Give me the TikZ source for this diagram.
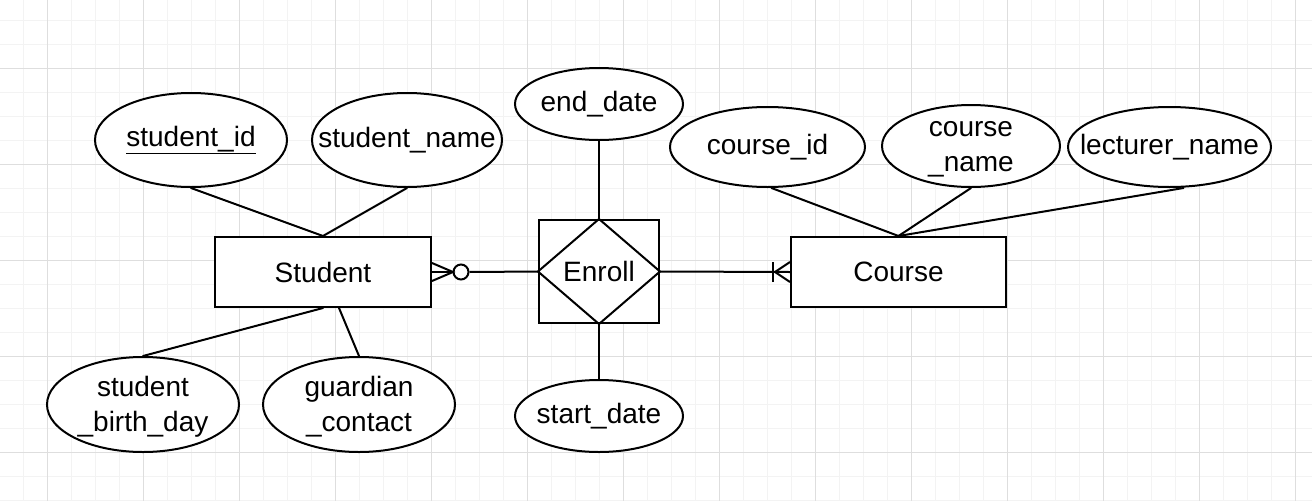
\documentclass[tikz,border=0pt]{standalone}
\usepackage{fontspec}
\setmainfont{Liberation Sans}
\usetikzlibrary{shapes.geometric,calc}
\begin{document}
\begin{tikzpicture}[x=1pt,y=-1pt,
  line width=2pt,
  attr/.style={ellipse,draw,line width=2pt,inner sep=0pt,fill=white},
  atext/.style={align=center,inner sep=0pt,font=\fontsize{28}{35}\selectfont},
  ent/.style={rectangle,draw,line width=2pt,fill=white,inner sep=0pt,
    minimum width=216pt,minimum height=70pt,font=\fontsize{28}{35}\selectfont},
  minorgrid/.style={line width=0.8pt,draw={rgb,255:red,243;green,243;blue,243}},
  majorgrid/.style={line width=0.8pt,draw={rgb,255:red,222;green,222;blue,222}},
  conn/.style={line width=2pt,line cap=round}]
\useasboundingbox (0,0) rectangle (1312,501);
\fill[white] (0,0) rectangle (1312,501);
% grid
\foreach \i in {0,...,54} \draw[minorgrid] ({23.5+24*\i},0) -- ++(0,501);
\foreach \j in {0,...,20} \draw[minorgrid] (0,{20+24*\j}) -- ++(1312,0);
\foreach \i in {0,...,13} \draw[majorgrid] ({47.5+96*\i},0) -- ++(0,501);
\foreach \j in {0,...,4} \draw[majorgrid] (0,{68+96*\j}) -- ++(1312,0);

% attributes
\node[attr,minimum width=192pt,minimum height=94pt,label={[atext]center:\underline{student\_id}}] (sid) at (191,140) {};
\node[attr,minimum width=190pt,minimum height=94pt,label={[atext]center:student\_name}] (sname) at (407,140) {};
\node[attr,minimum width=168pt,minimum height=72pt,label={[atext]center:end\_date}] (end) at (599,104) {};
\node[attr,minimum width=195pt,minimum height=80pt,label={[atext]center:course\_id}] (cid) at (767.5,147) {};
\node[attr,minimum width=178pt,minimum height=82pt,label={[atext,yshift=-3pt]center:course\\\_name}] (cname) at (971,146) {};
\node[attr,minimum width=203pt,minimum height=80pt,label={[atext]center:lecturer\_name}] (lname) at (1169.5,147) {};
\node[attr,minimum width=192pt,minimum height=95pt,label={[atext,yshift=-2pt]center:student\\\_birth\_day}] (sbd) at (143,404.5) {};
\node[attr,minimum width=192pt,minimum height=95pt,label={[atext,yshift=-2pt]center:guardian\\\_contact}] (gc) at (359,404.5) {};
\node[attr,minimum width=168pt,minimum height=72pt,label={[atext]center:start\_date}] (start) at (599,416) {};

% entities
\node[ent] (stud) at (323,272) {Student};
\node[ent,minimum width=215pt] (course) at (898.5,272) {Course};
\node[rectangle,draw,line width=2pt,fill=white,inner sep=0pt,minimum width=120pt,minimum height=103pt] (enr) at (599,271.5) {};
\draw[line width=2pt,line join=miter] (enr.north) -- (enr.east) -- (enr.south) -- (enr.west) -- cycle;
\node[atext] (enrtext) at (enr.center) {Enroll};

% attribute connectors
\draw[conn] (sid.south) -- (stud.north);
\draw[conn] (sname.south) -- (stud.north);
\draw[conn] (sbd.north) -- (stud.south);
\draw[conn] (gc.north) -- ([xshift=16pt]stud.south);
\draw[conn] (end.south) -- (enr.north);
\draw[conn] (start.north) -- (enr.south);
\draw[conn] ([xshift=4pt]cid.south) -- (course.north);
\draw[conn] (cname.south) -- (course.north);
\draw[conn] ([xshift=14pt]lname.south) -- (course.north);

% Student -- Enroll (zero or many at Student)
\node[circle,draw,line width=2pt,fill=white,minimum size=15pt,inner sep=0pt] (zc) at ([xshift=29pt]stud.east) {};
\coordinate (cf1) at ([xshift=21pt]stud.east);
\draw[line width=2pt] (stud.east) -- (zc.west);
\draw[line width=2pt] ([yshift=-9pt]stud.east) -- (cf1) -- ([yshift=9pt]stud.east);
\draw[line width=2pt] (zc.east) -- (enr.west);

% Enroll -- Course (one or many at Course)
\coordinate (cf2) at ([xshift=-17pt]course.west);
\draw[line width=2pt] (enr.east) -- (course.west);
\draw[line width=2pt] ([yshift=-10pt]cf2) -- ([yshift=10pt]cf2);
\draw[line width=2pt] ([yshift=-10pt]course.west) -- ([xshift=2pt]cf2) -- ([yshift=10pt]course.west);
\end{tikzpicture}
\end{document}
